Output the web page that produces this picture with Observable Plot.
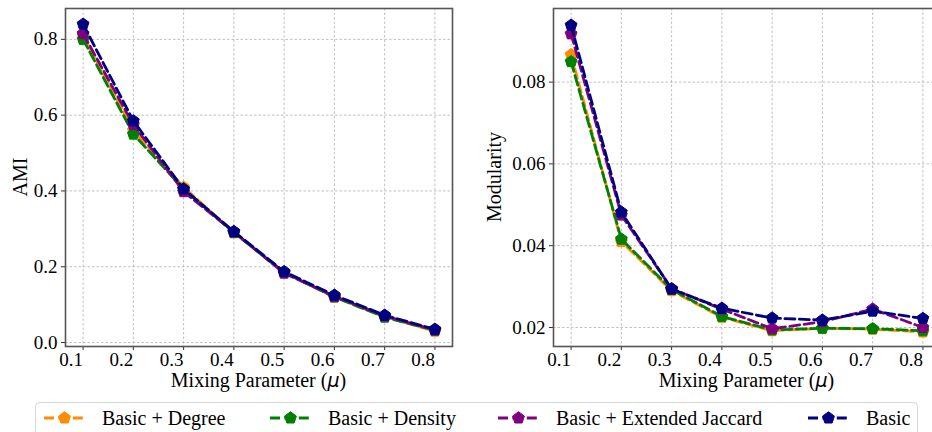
<!DOCTYPE html>
<html><head><meta charset="utf-8">
<script src="https://cdn.jsdelivr.net/npm/d3@7"></script>
<script src="https://cdn.jsdelivr.net/npm/@observablehq/plot@0.6"></script>
<style>
html,body{margin:0;padding:0;background:#fff;overflow:hidden;}
#wrap{position:relative;width:932px;height:432px;overflow:hidden;}
#wrap svg{position:absolute;top:0;}
</style></head><body><div id="wrap"></div>
<script>
// ---- data ----
const mu = [0.1, 0.2, 0.3, 0.4, 0.5, 0.6, 0.7, 0.8];
const seriesNames = ["Basic + Degree", "Basic + Density", "Basic + Extended Jaccard", "Basic"];
const seriesColors = ["#ff8c00", "#008000", "#800080", "#000080"];

const amiDegree   = [0.810, 0.560, 0.410, 0.290, 0.185, 0.120, 0.068, 0.030];
const amiDensity  = [0.800, 0.550, 0.405, 0.290, 0.185, 0.120, 0.067, 0.032];
const amiJaccard  = [0.815, 0.575, 0.398, 0.292, 0.183, 0.122, 0.070, 0.033];
const amiBasic    = [0.840, 0.585, 0.405, 0.293, 0.187, 0.125, 0.072, 0.035];

const modDegree   = [0.0867, 0.0410, 0.0290, 0.0225, 0.0192, 0.0198, 0.0196, 0.0189];
const modDensity  = [0.0850, 0.0416, 0.0293, 0.0227, 0.0194, 0.0198, 0.0197, 0.0192];
const modJaccard  = [0.0918, 0.0475, 0.0295, 0.0245, 0.0197, 0.0214, 0.0245, 0.0200];
const modBasic    = [0.0939, 0.0482, 0.0294, 0.0247, 0.0223, 0.0218, 0.0240, 0.0222];

const xTicks = [0.1, 0.2, 0.3, 0.4, 0.5, 0.6, 0.7, 0.8];
const amiTicks = [0.0, 0.2, 0.4, 0.6, 0.8];
const modTicks = [0.02, 0.04, 0.06, 0.08];
const xLabel = "Mixing Parameter (";
const muSymbol = "\u03bc";

// ---- pentagon marker ----
const pentagon = {
  draw(ctx, size) {
    const R = Math.sqrt(size / 2.3776);
    for (let k = 0; k < 5; k++) {
      const a = -Math.PI / 2 + k * 2 * Math.PI / 5;
      const x = R * Math.cos(a), y = R * Math.sin(a);
      if (k) ctx.lineTo(x, y); else ctx.moveTo(x, y);
    }
    ctx.closePath();
  }
};

const FONT = "'Liberation Serif', 'Times New Roman', serif";
const DASH = "10,4.4";

function panel({values, yDomain, yTicks, yFormat, yLabel, marginLeft, width, left, yLabelX}) {
  const marks = [
    Plot.gridX(xTicks, {stroke: "#b0b0b0", strokeOpacity: 1, strokeWidth: 0.8, strokeDasharray: "2.5,2"}),
    Plot.gridY(yTicks, {stroke: "#b0b0b0", strokeOpacity: 1, strokeWidth: 0.8, strokeDasharray: "2.5,2"})
  ];
  seriesNames.forEach((s, i) => {
    const d = mu.map((m, j) => ({series: s, x: m, y: values[i][j]}));
    marks.push(Plot.line(d, {x: "x", y: "y", stroke: seriesColors[i], strokeWidth: 2.8, strokeDasharray: DASH}));
    marks.push(Plot.dot(d, {x: "x", y: "y", fill: seriesColors[i], stroke: seriesColors[i], strokeWidth: 1, r: 5.4, symbol: pentagon}));
  });
  marks.push(Plot.axisX(xTicks, {tickFormat: d3.format(".1f"), tickSize: 4, tickPadding: 2, fontSize: 19, textAnchor: "end", dx: 0, label: null, stroke: "#333"}));
  marks.push(Plot.axisY(yTicks, {tickFormat: d3.format(yFormat), tickSize: 4, tickPadding: 4, fontSize: 19, label: null, stroke: "#333"}));
  marks.push(Plot.frame({stroke: "#555", strokeWidth: 1.6}));
  const chart = Plot.plot({
    width, height: 395,
    marginLeft, marginRight: width - marginLeft - 387, marginTop: 8, marginBottom: 49,
    style: {fontFamily: FONT, color: "black", background: "transparent", overflow: "visible"},
    x: {domain: [0.065, 0.835]},
    y: {domain: yDomain},
    marks
  });
  chart.style.left = left + "px";
  const svg = d3.select(chart);
  const t = svg.append("text")
    .attr("x", marginLeft + 387 / 2).attr("y", 387)
    .attr("text-anchor", "middle")
    .attr("font-family", FONT).attr("font-size", 20).attr("fill", "black");
  t.append("tspan").text(xLabel);
  t.append("tspan").attr("font-family", "'DejaVu Sans', sans-serif").attr("font-style", "italic").attr("font-size", 19).text(muSymbol);
  t.append("tspan").text(")");
  svg.append("text")
    .attr("transform", `translate(${yLabelX},177) rotate(-90)`)
    .attr("text-anchor", "middle")
    .attr("font-family", FONT).attr("font-size", 20).attr("fill", "black")
    .text(yLabel);
  return chart;
}

const wrap = document.getElementById("wrap");
wrap.appendChild(panel({
  values: [amiDegree, amiDensity, amiJaccard, amiBasic],
  yDomain: [-0.0105, 0.8815], yTicks: amiTicks, yFormat: ".1f", yLabel: "AMI",
  marginLeft: 65, width: 460, left: 0, yLabelX: 27
}));
wrap.appendChild(panel({
  values: [modDegree, modDensity, modJaccard, modBasic],
  yDomain: [0.01535, 0.098], yTicks: modTicks, yFormat: ".2f", yLabel: "Modularity",
  marginLeft: 87, width: 475, left: 466, yLabelX: 501 - 466
}));

// ---- legend ----
const legendX = [44, 270, 498, 808];
const lg = d3.select(wrap).append("svg")
  .attr("width", 932).attr("height", 37)
  .style("left", "0px").style("top", "395px");
lg.append("rect").attr("x", 35.5).attr("y", 7.5).attr("width", 882).attr("height", 45)
  .attr("rx", 4).attr("fill", "white").attr("stroke", "#d6d6d6").attr("stroke-width", 1);
const pentPath = d3.symbol(pentagon, Math.PI * 5.4 * 5.4)();
seriesNames.forEach((s, i) => {
  const g = lg.append("g").attr("transform", `translate(${legendX[i]},23)`);
  g.append("line").attr("x1", 0).attr("x2", 41).attr("y1", 0).attr("y2", 0)
    .attr("stroke", seriesColors[i]).attr("stroke-width", 2.8).attr("stroke-dasharray", DASH);
  g.append("path").attr("d", pentPath).attr("transform", "translate(20.5,0)")
    .attr("fill", seriesColors[i]).attr("stroke", seriesColors[i]).attr("stroke-width", 1);
  g.append("text").attr("x", 58).attr("y", 7)
    .attr("font-family", FONT).attr("font-size", 20).attr("fill", "black").text(s);
});
</script>
</body></html>
